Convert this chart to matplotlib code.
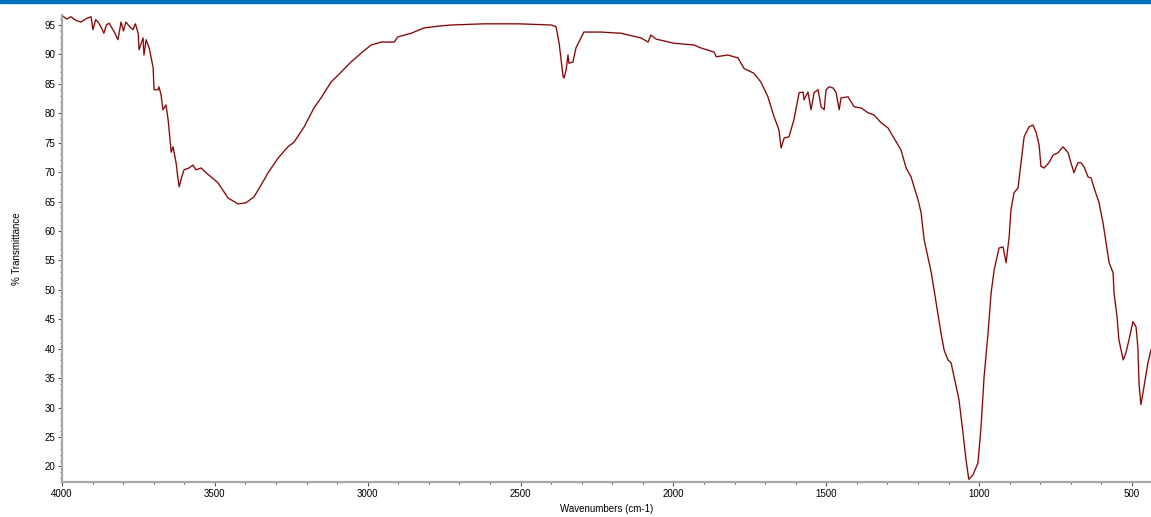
import matplotlib
matplotlib.use("Agg")
import matplotlib.pyplot as plt
from matplotlib.patches import Rectangle
from matplotlib.ticker import MultipleLocator

# FTIR spectrum
wavenumber = [
    3997, 3985, 3971, 3955, 3938, 3920, 3905, 3899, 3890, 3882, 3872, 3863, 3855,
    3846, 3830, 3817, 3807, 3799, 3791, 3780, 3768, 3760, 3751,
    3748, 3735, 3732, 3725, 3715, 3709, 3702, 3699, 3686, 3683, 3676, 3670, 3660,
    3653, 3643, 3637, 3627, 3621, 3617, 3611, 3601, 3585, 3572, 3562, 3545, 3529,
    3513, 3490, 3457, 3424, 3398, 3372, 3349, 3326, 3293, 3261, 3241, 3208, 3176,
    3153, 3120, 3087, 3055, 3022, 2989, 2957, 2914, 2901, 2858, 2816, 2770, 2728,
    2620, 2508, 2400, 2384, 2374, 2361, 2358, 2351, 2345, 2342, 2329, 2319, 2293,
    2237, 2172, 2106, 2083, 2074, 2057, 1998, 1933, 1910, 1867, 1860, 1822, 1789,
    1769, 1737, 1714, 1691, 1671, 1655, 1648, 1638, 1622, 1606, 1589, 1576, 1573,
    1560, 1550, 1540, 1527, 1517, 1507, 1501, 1491, 1478, 1468, 1458, 1452, 1429,
    1409, 1386, 1364, 1344, 1321, 1298, 1279, 1256, 1239, 1223, 1200, 1190, 1180,
    1157, 1141, 1125, 1115, 1102, 1092, 1082, 1066, 1053, 1043, 1034, 1020, 1004,
    994, 984, 971, 961, 951, 935, 922, 912, 902, 896, 886, 873, 863, 853, 837, 824,
    814, 804, 798, 788, 772, 758, 742, 726, 709, 700, 690, 677, 667, 657, 644, 634,
    624, 608, 595, 585, 575, 562, 559, 549, 543, 529, 520, 510, 497, 487, 481, 477,
    471, 461, 448, 438,
]
transmittance = [
    96.5, 96.0, 96.4, 95.8, 95.5, 96.1, 96.4, 94.2, 95.9, 95.5, 94.6, 93.6, 95.0,
    95.3, 93.9, 92.5, 95.5, 94.0, 95.5, 94.8, 94.2, 95.2, 93.6,
    90.8, 92.8, 89.9, 92.5, 91.1, 89.6, 87.7, 84.0, 84.0, 84.5, 83.1, 80.6, 81.4,
    78.9, 73.4, 74.3, 71.6, 69.0, 67.5, 68.7, 70.4, 70.7, 71.2, 70.4, 70.7, 69.9,
    69.2, 68.2, 65.6, 64.6, 64.8, 65.8, 67.8, 69.9, 72.4, 74.3, 75.1, 77.7, 80.9,
    82.6, 85.3, 87.0, 88.7, 90.2, 91.6, 92.1, 92.1, 93.0, 93.6, 94.5, 94.8, 95.0,
    95.2, 95.2, 95.0, 94.7, 91.9, 86.2, 86.0, 87.4, 89.9, 88.5, 88.7, 91.1, 93.8,
    93.8, 93.6, 92.8, 92.1, 93.3, 92.6, 91.9, 91.6, 91.1, 90.4, 89.6, 89.9, 89.4,
    87.6, 86.8, 85.3, 82.8, 79.4, 77.2, 74.1, 75.8, 76.0, 78.9, 83.5, 83.6, 82.3,
    83.6, 80.6, 83.5, 84.0, 81.1, 80.6, 84.0, 84.5, 84.3, 83.5, 80.6, 82.6, 82.8,
    81.1, 80.9, 80.1, 79.7, 78.4, 77.5, 75.8, 73.8, 70.7, 69.2, 65.3, 63.1, 58.5,
    53.0, 47.8, 42.7, 39.8, 38.1, 37.6, 35.2, 31.3, 25.7, 21.1, 17.8, 18.6, 20.6,
    26.7, 35.2, 42.7, 49.5, 53.4, 57.1, 57.3, 54.6, 59.0, 63.6, 66.5, 67.3, 71.6,
    76.0, 77.7, 78.0, 76.8, 74.6, 71.0, 70.7, 71.6, 72.9, 73.3, 74.3, 73.3, 71.6,
    69.9, 71.6, 71.6, 70.9, 69.2, 69.0, 67.3, 64.8, 61.4, 58.0, 54.6, 52.9, 49.5,
    45.4, 41.5, 38.1, 39.3, 41.5, 44.6, 43.7, 40.3, 33.9, 30.5, 33.5, 37.6, 39.8,
]

plt.rcParams['font.family'] = ['Liberation Sans', 'DejaVu Sans']

fig = plt.figure(figsize=(11.51, 5.17), dpi=100)
fig.patches.append(Rectangle((0, 0.995), 1, 0.005, transform=fig.transFigure,
                             color='#0070C0', zorder=10))

ax = fig.add_axes([0.0539, 0.0683, 0.9461, 0.9027])
ax.plot(wavenumber, transmittance, color='#e05050', lw=1.3, alpha=0.45)
ax.plot(wavenumber, transmittance, color='#6e0000', lw=0.75)

ax.set_xlim(4000, 438)
ax.set_ylim(17.4, 96.7)
ax.xaxis.set_major_locator(MultipleLocator(500))
ax.xaxis.set_minor_locator(MultipleLocator(100))
ax.yaxis.set_major_locator(MultipleLocator(5))
ax.yaxis.set_minor_locator(MultipleLocator(1))

for s in ['top', 'right']:
    ax.spines[s].set_visible(False)
for s in ['left', 'bottom']:
    ax.spines[s].set_color('#a8a8a8')
    ax.spines[s].set_linewidth(1.6)

ax.tick_params(which='major', length=3, width=0.8, color='#555555',
               labelsize=7, pad=2)
ax.tick_params(which='minor', length=1.5, width=0.8, color='#555555')

ax.set_xlabel('Wavenumbers (cm-1)', fontsize=7, labelpad=4)
ax.set_ylabel('% Transmittance', fontsize=7, labelpad=16)

fig.savefig('out.png', dpi=100)
